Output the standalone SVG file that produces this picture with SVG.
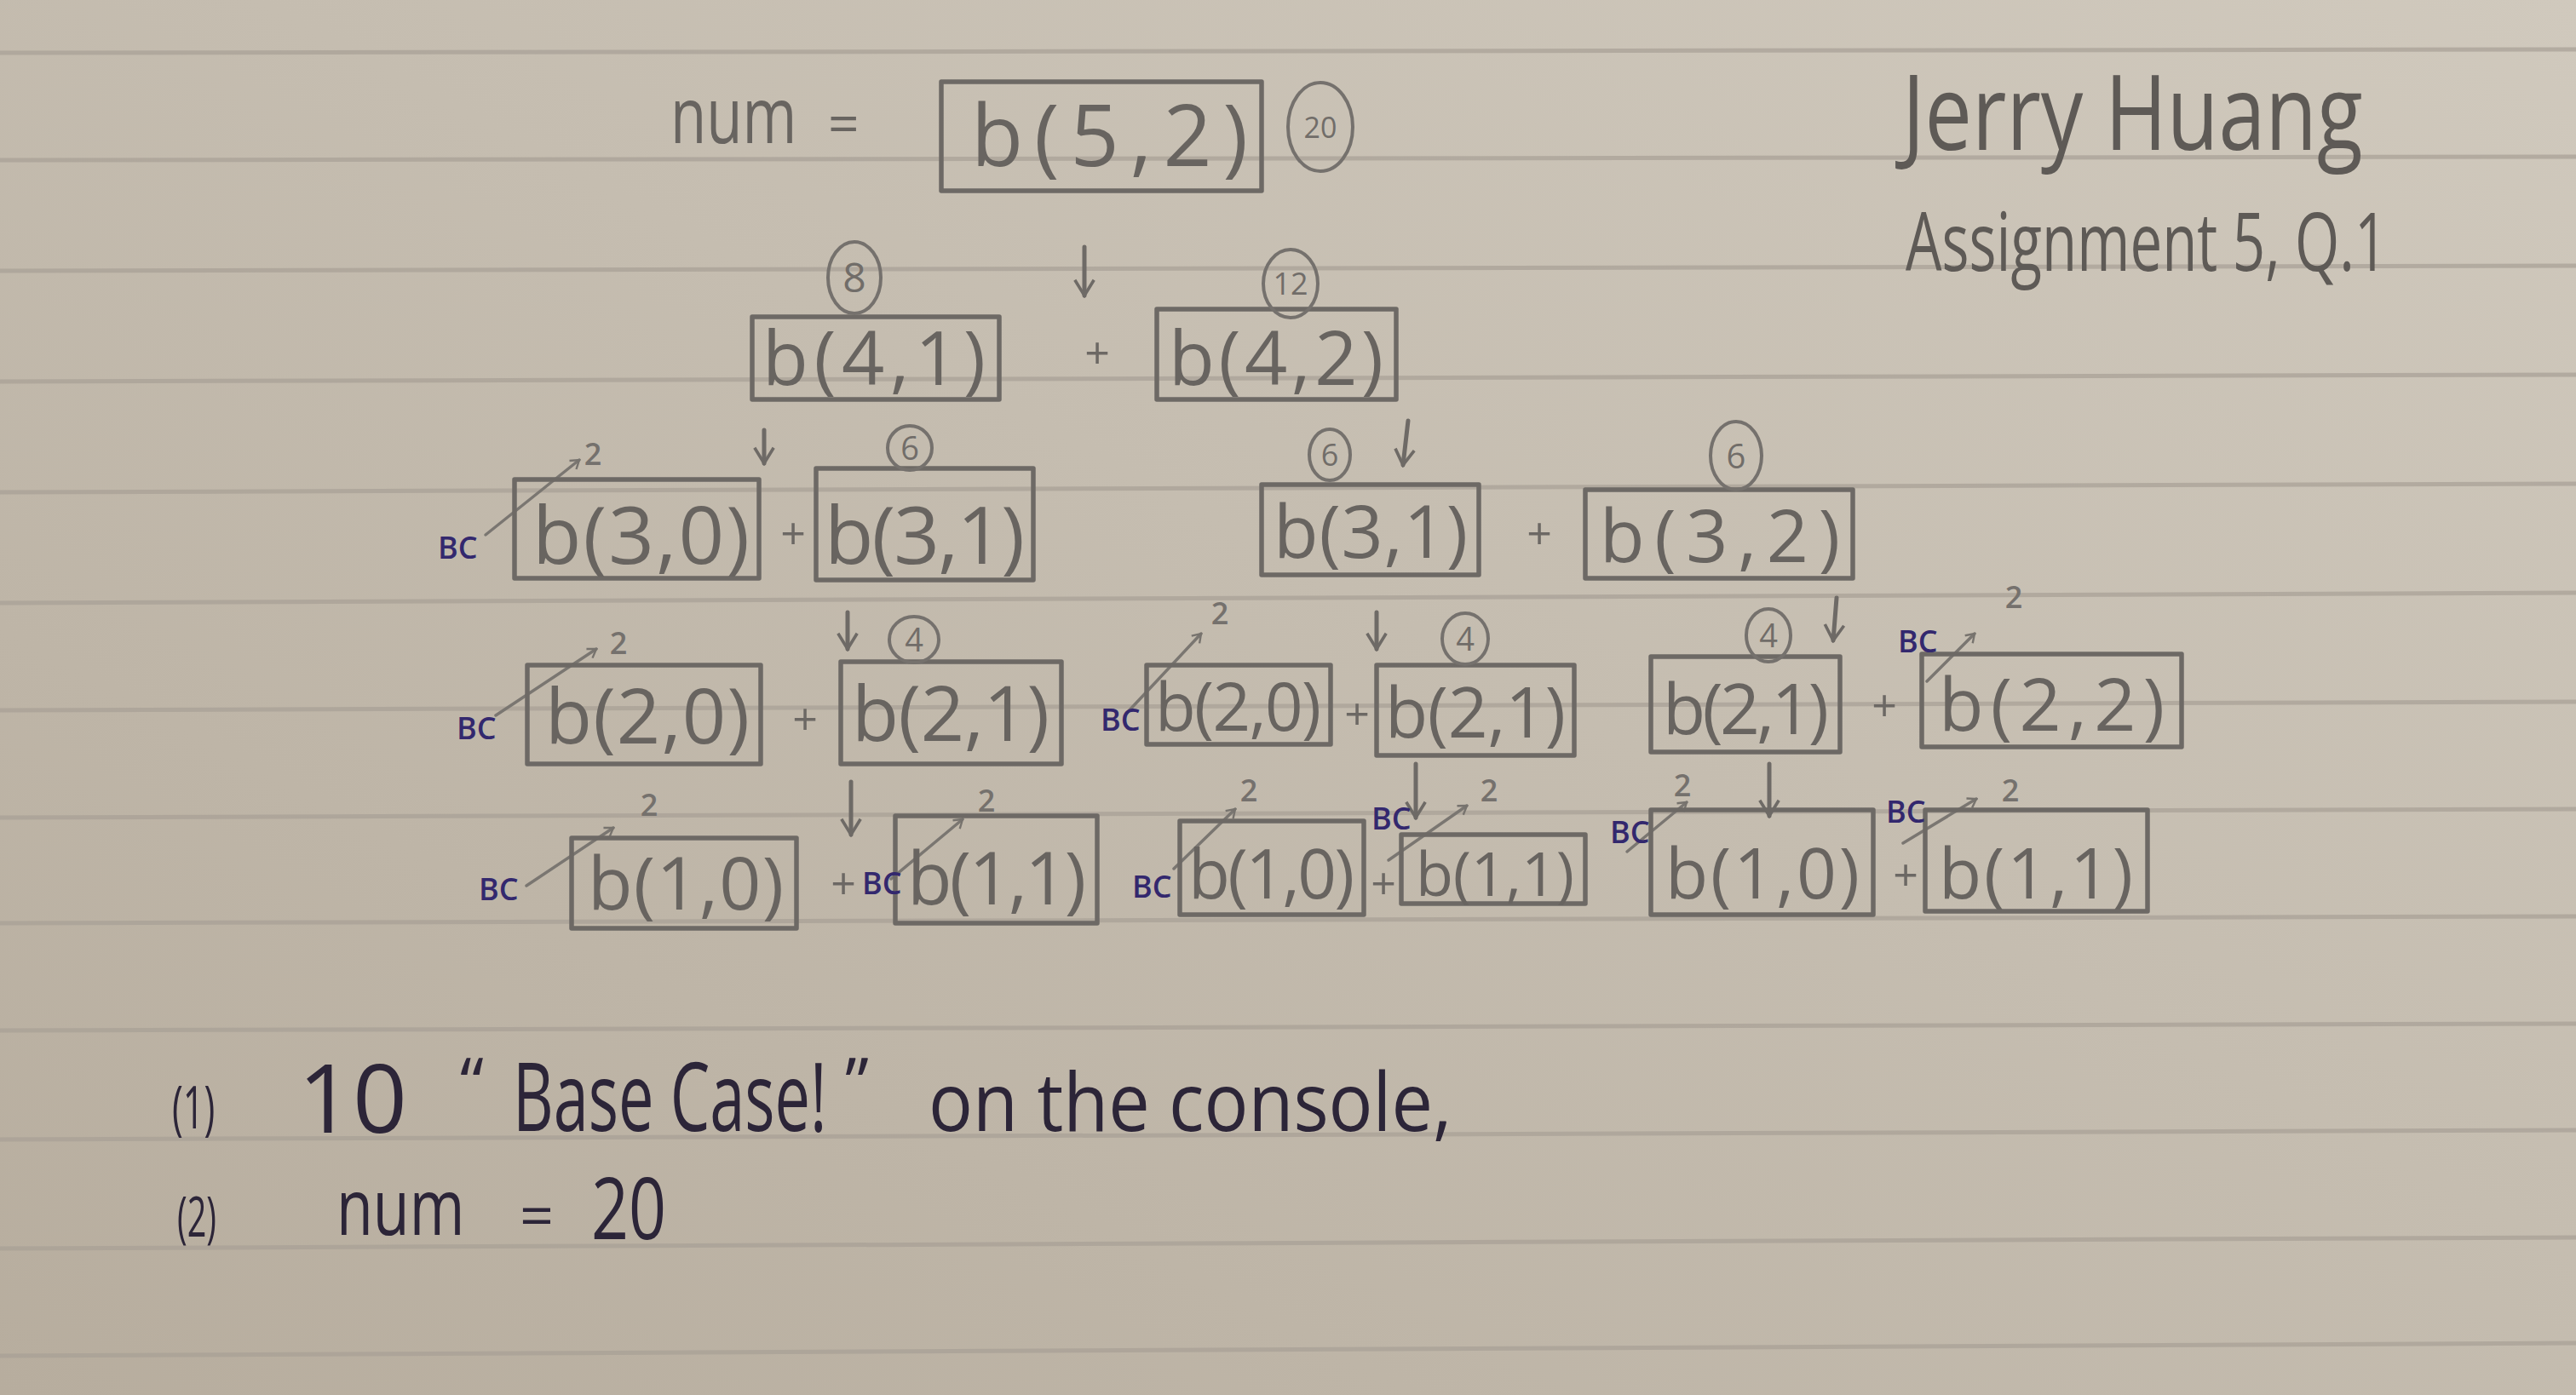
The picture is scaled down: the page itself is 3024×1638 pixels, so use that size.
<svg xmlns="http://www.w3.org/2000/svg" width="3024" height="1638" viewBox="0 0 3024 1638">
<defs>
<linearGradient id="paper" x1="0" y1="1" x2="1" y2="0">
<stop offset="0" stop-color="#b7ad9e"/>
<stop offset="0.55" stop-color="#c5bdb0"/>
<stop offset="1" stop-color="#d0c9bd"/>
</linearGradient>
<marker id="ahSmall" viewBox="0 0 20 20" refX="18" refY="10" markerWidth="16" markerHeight="16" markerUnits="userSpaceOnUse" orient="auto">
<path d="M6,2 L18,10 L6,18" fill="none" stroke="#77736e" stroke-width="3"/>
</marker>
<marker id="ahV" viewBox="0 0 20 20" refX="18" refY="10" markerWidth="28" markerHeight="28" markerUnits="userSpaceOnUse" orient="auto">
<path d="M5,2 L18,10 L5,18" fill="none" stroke="#6e6a66" stroke-width="2.6"/>
</marker>
</defs>
<style>
.rule{stroke:#a8a096;stroke-width:5;opacity:0.7}
.box{fill:none;stroke:#6d6965;stroke-width:5.5;stroke-linejoin:round}
.lbl{font-family:"Open Sans","Liberation Sans",sans-serif;fill:#686460;font-weight:500}
.circ{fill:none;stroke:#75716d;stroke-width:4}
.cnum{font-family:"Open Sans","Liberation Sans",sans-serif;fill:#716d69;text-anchor:middle;font-weight:500}
.two{font-family:"Open Sans","Liberation Sans",sans-serif;fill:#75716d;text-anchor:middle;font-size:36px;font-weight:600}
.bc{font-family:"Open Sans","Liberation Sans",sans-serif;fill:#33286e;font-size:36px;font-weight:600}
.plus{font-family:"Open Sans","Liberation Sans",sans-serif;fill:#6c6864;font-size:52px;text-anchor:middle}
.down{fill:none;stroke:#6e6a66;stroke-width:5;stroke-linecap:round}
.diag{fill:none;stroke:#7a7671;stroke-width:3.5;stroke-linecap:round}
.ink{font-family:"Open Sans","Liberation Sans",sans-serif;fill:#2c2538}
.head{font-family:"Open Sans","Liberation Sans",sans-serif;fill:#5e5a56}
</style>
<rect width="3024" height="1638" fill="url(#paper)"/>
<g id="rules">
<line class="rule" x1="0" y1="62" x2="3024" y2="58"/>
<line class="rule" x1="0" y1="188" x2="3024" y2="184"/>
<line class="rule" x1="0" y1="318" x2="3024" y2="312"/>
<line class="rule" x1="0" y1="448" x2="3024" y2="440"/>
<line class="rule" x1="0" y1="578" x2="3024" y2="568"/>
<line class="rule" x1="0" y1="708" x2="3024" y2="696"/>
<line class="rule" x1="0" y1="834" x2="3024" y2="824"/>
<line class="rule" x1="0" y1="960" x2="3024" y2="950"/>
<line class="rule" x1="0" y1="1084" x2="3024" y2="1076"/>
<line class="rule" x1="0" y1="1210" x2="3024" y2="1202"/>
<line class="rule" x1="0" y1="1338" x2="3024" y2="1327"/>
<line class="rule" x1="0" y1="1466" x2="3024" y2="1453"/>
<line class="rule" x1="0" y1="1592" x2="3024" y2="1577"/>
</g>

<g id="header">
<text class="head" transform="translate(2233,176) scale(0.81,1)" font-size="122">Jerry Huang</text>
<text class="head" transform="translate(2237,318) scale(0.70,1)" font-size="96">Assignment 5, Q.1</text>
</g>

<g id="num-label">
<text class="lbl" transform="translate(787,168) scale(0.75,1)" font-size="92">num</text>
<text class="lbl" x="972" y="168" font-size="64">=</text>
</g>

<g id="connectors">
<line class="down" x1="1273" y1="290" x2="1273" y2="347" marker-end="url(#ahV)"/>
<line class="down" x1="897" y1="505" x2="897" y2="544" marker-end="url(#ahV)"/>
<line class="down" x1="1653" y1="494" x2="1647" y2="546" marker-end="url(#ahV)"/>
<line class="down" x1="995" y1="719" x2="995" y2="762" marker-end="url(#ahV)"/>
<line class="down" x1="1616" y1="719" x2="1616" y2="762" marker-end="url(#ahV)"/>
<line class="down" x1="2156" y1="702" x2="2152" y2="752" marker-end="url(#ahV)"/>
<line class="down" x1="999" y1="918" x2="999" y2="980" marker-end="url(#ahV)"/>
<line class="down" x1="1662" y1="897" x2="1662" y2="960" marker-end="url(#ahV)"/>
<line class="down" x1="2077" y1="897" x2="2077" y2="958" marker-end="url(#ahV)"/>
<line class="diag" x1="570" y1="628" x2="680" y2="540" marker-end="url(#ahSmall)"/>
<line class="diag" x1="582" y1="840" x2="700" y2="762" marker-end="url(#ahSmall)"/>
<line class="diag" x1="1322" y1="838" x2="1410" y2="744" marker-end="url(#ahSmall)"/>
<line class="diag" x1="2262" y1="800" x2="2318" y2="744" marker-end="url(#ahSmall)"/>
<line class="diag" x1="618" y1="1040" x2="720" y2="972" marker-end="url(#ahSmall)"/>
<line class="diag" x1="1046" y1="1032" x2="1130" y2="962" marker-end="url(#ahSmall)"/>
<line class="diag" x1="1378" y1="1020" x2="1450" y2="950" marker-end="url(#ahSmall)"/>
<line class="diag" x1="1630" y1="1010" x2="1722" y2="946" marker-end="url(#ahSmall)"/>
<line class="diag" x1="1910" y1="1000" x2="1980" y2="942" marker-end="url(#ahSmall)"/>
<line class="diag" x1="2234" y1="990" x2="2320" y2="938" marker-end="url(#ahSmall)"/>
<text class="plus" x="1288" y="433">+</text>
<text class="plus" x="931" y="645">+</text>
<text class="plus" x="1807" y="645">+</text>
<text class="plus" x="945" y="863">+</text>
<text class="plus" x="1593" y="857">+</text>
<text class="plus" x="2212" y="847">+</text>
<text class="plus" x="990" y="1056">+</text>
<text class="plus" x="1624" y="1056">+</text>
<text class="plus" x="2237" y="1046">+</text>
</g>

<g id="n-b52">
<rect class="box" x="1105" y="96" width="376" height="128"/>
<text class="lbl" x="1140" y="195" font-size="100" textLength="325" lengthAdjust="spacing">b(5,2)</text>
<ellipse class="circ" cx="1550" cy="149" rx="38" ry="52"/>
<text class="cnum" x="1550" y="162" font-size="34">20</text>
</g>

<g id="n-b41">
<rect class="box" x="883" y="372" width="290" height="97"/>
<text class="lbl" x="895" y="452" font-size="88" textLength="262" lengthAdjust="spacing">b(4,1)</text>
<ellipse class="circ" cx="1003" cy="326" rx="31" ry="42"/>
<text class="cnum" x="1003" y="343" font-size="48">8</text>
</g>

<g id="n-b42">
<rect class="box" x="1358" y="363" width="281" height="106"/>
<text class="lbl" x="1372" y="452" font-size="88" textLength="252" lengthAdjust="spacing">b(4,2)</text>
<ellipse class="circ" cx="1515" cy="333" rx="32" ry="40"/>
<text class="cnum" x="1515" y="346" font-size="36">12</text>
</g>

<g id="n-b30">
<rect class="box" x="604" y="563" width="287" height="116"/>
<text class="lbl" x="625" y="662" font-size="94" textLength="255" lengthAdjust="spacing">b(3,0)</text>
<text class="bc" x="514" y="656">BC</text>
<text class="two" x="696" y="546">2</text>
</g>

<g id="n-b31-left">
<rect class="box" x="958" y="550" width="255" height="131"/>
<text class="lbl" x="968" y="662" font-size="94" textLength="235" lengthAdjust="spacing">b(3,1)</text>
<ellipse class="circ" cx="1068" cy="526" rx="26" ry="26"/>
<text class="cnum" x="1068" y="540" font-size="38">6</text>
</g>

<g id="n-b31-right">
<rect class="box" x="1481" y="569" width="255" height="106"/>
<text class="lbl" x="1495" y="655" font-size="86" textLength="228" lengthAdjust="spacing">b(3,1)</text>
<ellipse class="circ" cx="1561" cy="534" rx="24" ry="30"/>
<text class="cnum" x="1561" y="547" font-size="36">6</text>
</g>

<g id="n-b32">
<rect class="box" x="1861" y="575" width="314" height="104"/>
<text class="lbl" x="1878" y="660" font-size="86" textLength="282" lengthAdjust="spacing">b(3,2)</text>
<ellipse class="circ" cx="2038" cy="535" rx="30" ry="40"/>
<text class="cnum" x="2038" y="550" font-size="40">6</text>
</g>

<g id="n-b20-a">
<rect class="box" x="619" y="781" width="274" height="116"/>
<text class="lbl" x="640" y="873" font-size="90" textLength="240" lengthAdjust="spacing">b(2,0)</text>
<text class="bc" x="536" y="868">BC</text>
<text class="two" x="726" y="768">2</text>
</g>

<g id="n-b21-a">
<rect class="box" x="987" y="777" width="259" height="120"/>
<text class="lbl" x="1000" y="870" font-size="90" textLength="232" lengthAdjust="spacing">b(2,1)</text>
<ellipse class="circ" cx="1073" cy="751" rx="29" ry="27"/>
<text class="cnum" x="1073" y="765" font-size="38">4</text>
</g>

<g id="n-b20-b">
<rect class="box" x="1346" y="781" width="216" height="93"/>
<text class="lbl" x="1356" y="858" font-size="78" textLength="195" lengthAdjust="spacing">b(2,0)</text>
<text class="bc" x="1292" y="858">BC</text>
<text class="two" x="1432" y="733">2</text>
</g>

<g id="n-b21-b">
<rect class="box" x="1616" y="781" width="232" height="106"/>
<text class="lbl" x="1626" y="866" font-size="82" textLength="212" lengthAdjust="spacing">b(2,1)</text>
<ellipse class="circ" cx="1720" cy="750" rx="27" ry="30"/>
<text class="cnum" x="1720" y="764" font-size="38">4</text>
</g>

<g id="n-b21-c">
<rect class="box" x="1938" y="771" width="222" height="112"/>
<text class="lbl" x="1952" y="862" font-size="82" textLength="195" lengthAdjust="spacing">b(2,1)</text>
<ellipse class="circ" cx="2076" cy="746" rx="26" ry="31"/>
<text class="cnum" x="2076" y="760" font-size="38">4</text>
</g>

<g id="n-b22">
<rect class="box" x="2256" y="768" width="305" height="109"/>
<text class="lbl" x="2276" y="858" font-size="86" textLength="265" lengthAdjust="spacing">b(2,2)</text>
<text class="bc" x="2228" y="766">BC</text>
<text class="two" x="2364" y="714">2</text>
</g>

<g id="n-b10-a">
<rect class="box" x="671" y="984" width="264" height="106"/>
<text class="lbl" x="690" y="1068" font-size="86" textLength="230" lengthAdjust="spacing">b(1,0)</text>
<text class="bc" x="562" y="1057">BC</text>
<text class="two" x="762" y="958">2</text>
</g>

<g id="n-b11-a">
<rect class="box" x="1051" y="958" width="237" height="126"/>
<text class="lbl" x="1065" y="1062" font-size="86" textLength="210" lengthAdjust="spacing">b(1,1)</text>
<text class="bc" x="1012" y="1050">BC</text>
<text class="two" x="1158" y="953">2</text>
</g>

<g id="n-b10-b">
<rect class="box" x="1385" y="964" width="216" height="110"/>
<text class="lbl" x="1395" y="1055" font-size="80" textLength="195" lengthAdjust="spacing">b(1,0)</text>
<text class="bc" x="1329" y="1054">BC</text>
<text class="two" x="1466" y="941">2</text>
</g>

<g id="n-b11-b">
<rect class="box" x="1645" y="980" width="216" height="81"/>
<text class="lbl" x="1662" y="1052" font-size="72" textLength="186" lengthAdjust="spacing">b(1,1)</text>
<text class="bc" x="1610" y="974">BC</text>
<text class="two" x="1748" y="941">2</text>
</g>

<g id="n-b10-c">
<rect class="box" x="1938" y="951" width="261" height="123"/>
<text class="lbl" x="1955" y="1055" font-size="82" textLength="228" lengthAdjust="spacing">b(1,0)</text>
<text class="bc" x="1890" y="990">BC</text>
<text class="two" x="1975" y="935">2</text>
</g>

<g id="n-b11-c">
<rect class="box" x="2260" y="951" width="261" height="119"/>
<text class="lbl" x="2276" y="1055" font-size="82" textLength="228" lengthAdjust="spacing">b(1,1)</text>
<text class="bc" x="2214" y="966">BC</text>
<text class="two" x="2360" y="941">2</text>
</g>

<g id="answers">
<text class="ink" transform="translate(202,1325) scale(0.62,1)" font-size="70">(1)</text>
<text class="ink" x="350" y="1330" font-size="112" textLength="128" lengthAdjust="spacing">10</text>
<text class="ink" x="540" y="1300" font-size="80">“</text>
<text class="ink" transform="translate(602,1328) scale(0.66,1)" font-size="112">Base Case!</text>
<text class="ink" x="992" y="1300" font-size="80">”</text>
<text class="ink" transform="translate(1090,1328) scale(0.9,1)" font-size="96">on the console,</text>
<text class="ink" transform="translate(208,1452) scale(0.6,1)" font-size="66">(2)</text>
<text class="ink" transform="translate(395,1450) scale(0.76,1)" font-size="92">num</text>
<text class="ink" x="610" y="1452" font-size="70">=</text>
<text class="ink" transform="translate(694,1455) scale(0.77,1)" font-size="100">20</text>
</g>
</svg>
